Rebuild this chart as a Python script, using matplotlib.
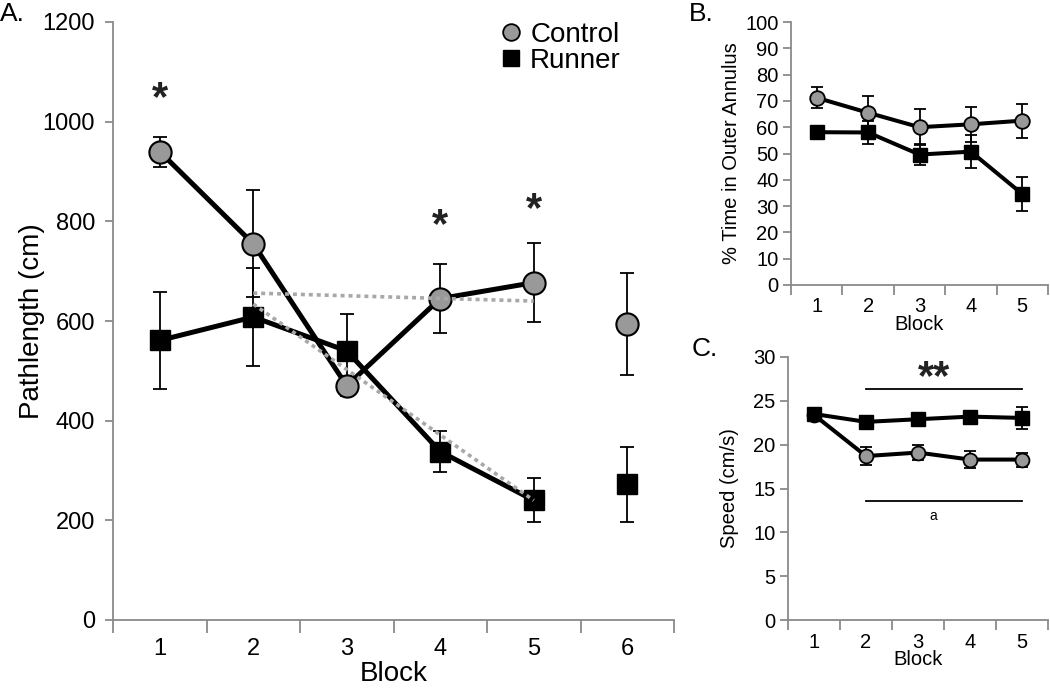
import matplotlib
matplotlib.use('Agg')
import matplotlib.pyplot as plt
import numpy as np
from matplotlib.lines import Line2D

plt.rcParams['font.family'] = ['Liberation Sans', 'DejaVu Sans']

# ---------------- data ----------------
blocks_a = [1, 2, 3, 4, 5, 6]
control_a = [940, 755, 470, 645, 677, 594]
control_a_err = [30, 107, 20, 70, 80, 103]
runner_a = [561, 608, 540, 338, 240, 272]
runner_a_err = [98, 98, 75, 41, 44, 75]
trend_x = [2, 5]
trend_control = [656, 640]
trend_runner = [634, 240]
star_a_x = [1, 4, 5]
star_a_y = [1046, 790, 822]

blocks_bc = [1, 2, 3, 4, 5]
control_b = [71.2, 65.5, 60.0, 61.1, 62.5]
control_b_err = [4.0, 6.5, 6.9, 6.7, 6.5]
runner_b = [58.1, 58.0, 49.6, 50.7, 34.6]
runner_b_err = [2.0, 4.2, 4.0, 6.4, 6.3]

control_c = [23.4, 18.7, 19.1, 18.3, 18.3]
control_c_err = [0.5, 1.0, 0.9, 1.0, 0.8]
runner_c = [23.5, 22.6, 22.9, 23.2, 23.05]
runner_c_err = [0.5, 0.6, 0.7, 0.6, 1.3]
sig_x = [2, 5]
sig_upper_y = 26.4
sig_lower_y = 13.6
sig_star_xy = (3.3, 27.6)
sig_a_xy = (3.3, 11.85)

GRAY_FILL = '#999999'
SPINE = '#8a8a8a'

fig = plt.figure(figsize=(10.5, 6.88), dpi=100)
W, H = 1050, 688


def px_axes(l, t, r, b):
    return fig.add_axes([l / W, 1 - b / H, (r - l) / W, (b - t) / H])


def style(ax, n, ylim, yticks, tick_fs, ylen, xlen, xpad, ypad):
    for s in ['top', 'right']:
        ax.spines[s].set_visible(False)
    for s in ['left', 'bottom']:
        ax.spines[s].set_color(SPINE)
        ax.spines[s].set_linewidth(1.3)
    ax.set_xlim(0.5, n + 0.5)
    ax.set_ylim(*ylim)
    ax.set_yticks(yticks)
    ax.set_xticks(np.arange(0.5, n + 1, 1))
    ax.set_xticklabels([])
    ax.set_xticks(np.arange(1, n + 1), minor=True)
    ax.set_xticklabels([str(i) for i in range(1, n + 1)], minor=True)
    ax.tick_params(axis='x', which='major', length=xlen, width=1.3, color=SPINE, direction='out')
    ax.tick_params(axis='x', which='minor', length=0, pad=xpad, labelsize=tick_fs)
    ax.tick_params(axis='y', length=ylen, width=1.3, color=SPINE, direction='out',
                   pad=ypad, labelsize=tick_fs)
    for sp in ax.spines.values():
        sp.set_zorder(0.5)


# ---------------- Panel A ----------------
axA = px_axes(113, 22, 674, 620)
style(axA, 6, (0, 1200), range(0, 1201, 200), 17, 6, 9, 13, 7)

line_lw = 3.6
axA.errorbar(blocks_a, control_a, yerr=control_a_err, fmt='none', ecolor='black',
             elinewidth=1.3, capsize=4.7, capthick=1.3, zorder=2)
axA.errorbar(blocks_a, runner_a, yerr=runner_a_err, fmt='none', ecolor='black',
             elinewidth=1.3, capsize=4.7, capthick=1.3, zorder=2)
axA.plot(blocks_a[:5], runner_a[:5], color='black', lw=line_lw, zorder=3)
axA.plot(blocks_a[:5], control_a[:5], color='black', lw=line_lw, zorder=3)
axA.plot(blocks_a, runner_a, ls='none', marker='s', ms=15, mfc='black', mec='black', zorder=4)
axA.plot(blocks_a, control_a, ls='none', marker='o', ms=16, mfc=GRAY_FILL, mec='black',
         mew=1.5, zorder=4)
axA.plot(trend_x, trend_control, color='#a8a8a8', lw=2.6, ls=(0, (1.1, 1.1)), zorder=5)
axA.plot(trend_x, trend_runner, color='#a8a8a8', lw=2.6, ls=(0, (1.1, 1.1)), zorder=5)
for x, y in zip(star_a_x, star_a_y):
    axA.text(x, y, '*', ha='center', va='center', fontsize=30, fontweight='bold',
             color='#222222')

axA.set_ylabel('Pathlength (cm)', fontsize=20)
axA.yaxis.set_label_coords(-0.122, 0.5)
axA.set_xlabel('Block', fontsize=20)
axA.xaxis.set_label_coords(0.5, -0.068)

handles = [Line2D([], [], ls='none', marker='o', ms=12, mfc=GRAY_FILL, mec='black', mew=1.3),
           Line2D([], [], ls='none', marker='s', ms=11.5, mfc='black', mec='black')]
fig.legend(handles, ['Control', 'Runner'], loc='upper left',
           bbox_to_anchor=(501 / W, 1 - 22 / H), frameon=False, fontsize=20,
           handlelength=0.75, handletextpad=0.3, labelspacing=0.0, borderpad=0,
           borderaxespad=0)

# ---------------- Panel B ----------------
axB = px_axes(791, 22, 1048, 285)
style(axB, 5, (0, 100), range(0, 101, 10), 14.5, 6, 7, 9, 3)
axB.errorbar(blocks_bc, control_b, yerr=control_b_err, fmt='none', ecolor='black',
             elinewidth=1.3, capsize=4.3, capthick=1.3, zorder=2)
axB.errorbar(blocks_bc, runner_b, yerr=runner_b_err, fmt='none', ecolor='black',
             elinewidth=1.3, capsize=4.3, capthick=1.3, zorder=2)
axB.plot(blocks_bc, runner_b, color='black', lw=2.9, marker='s', ms=10.5, mfc='black',
         mec='black', zorder=3)
axB.plot(blocks_bc, control_b, color='black', lw=2.9, marker='o', ms=10.5, mfc=GRAY_FILL,
         mec='black', mew=1.3, zorder=4)
axB.set_ylabel('% Time in Outer Annulus', fontsize=14.5)
axB.yaxis.set_label_coords(-0.195, 0.5)
axB.set_xlabel('Block', fontsize=14.5)
axB.xaxis.set_label_coords(0.5, -0.115)

# ---------------- Panel C ----------------
axC = px_axes(788, 357, 1048, 620)
style(axC, 5, (0, 30), range(0, 31, 5), 14.5, 6, 7, 9, 3)
axC.errorbar(blocks_bc, control_c, yerr=control_c_err, fmt='none', ecolor='black',
             elinewidth=1.3, capsize=4.3, capthick=1.3, zorder=2)
axC.errorbar(blocks_bc, runner_c, yerr=runner_c_err, fmt='none', ecolor='black',
             elinewidth=1.3, capsize=4.3, capthick=1.3, zorder=2)
axC.plot(blocks_bc, control_c, color='black', lw=2.9, marker='o', ms=10, mfc=GRAY_FILL,
         mec='black', mew=1.3, zorder=3)
axC.plot(blocks_bc, runner_c, color='black', lw=2.9, marker='s', ms=10, mfc='black',
         mec='black', zorder=4)
axC.plot(sig_x, [sig_upper_y] * 2, color='black', lw=1.3)
axC.plot(sig_x, [sig_lower_y] * 2, color='black', lw=1.3)
axC.text(*sig_star_xy, '**', ha='center', va='center', fontsize=30, fontweight='bold',
         color='#222222')
axC.text(*sig_a_xy, 'a', ha='center', va='center', fontsize=10)
axC.set_ylabel('Speed (cm/s)', fontsize=14.5)
axC.yaxis.set_label_coords(-0.19, 0.5)
axC.set_xlabel('Block', fontsize=14.5)
axC.xaxis.set_label_coords(0.5, -0.115)

# panel letters
fig.text(0 / W, 1 - 2 / H, 'A.', fontsize=19, va='top', ha='left')
fig.text(689 / W, 1 - 2 / H, 'B.', fontsize=19, va='top', ha='left')
fig.text(692 / W, 1 - 337 / H, 'C.', fontsize=19, va='top', ha='left')

fig.savefig('out.png', dpi=100)
